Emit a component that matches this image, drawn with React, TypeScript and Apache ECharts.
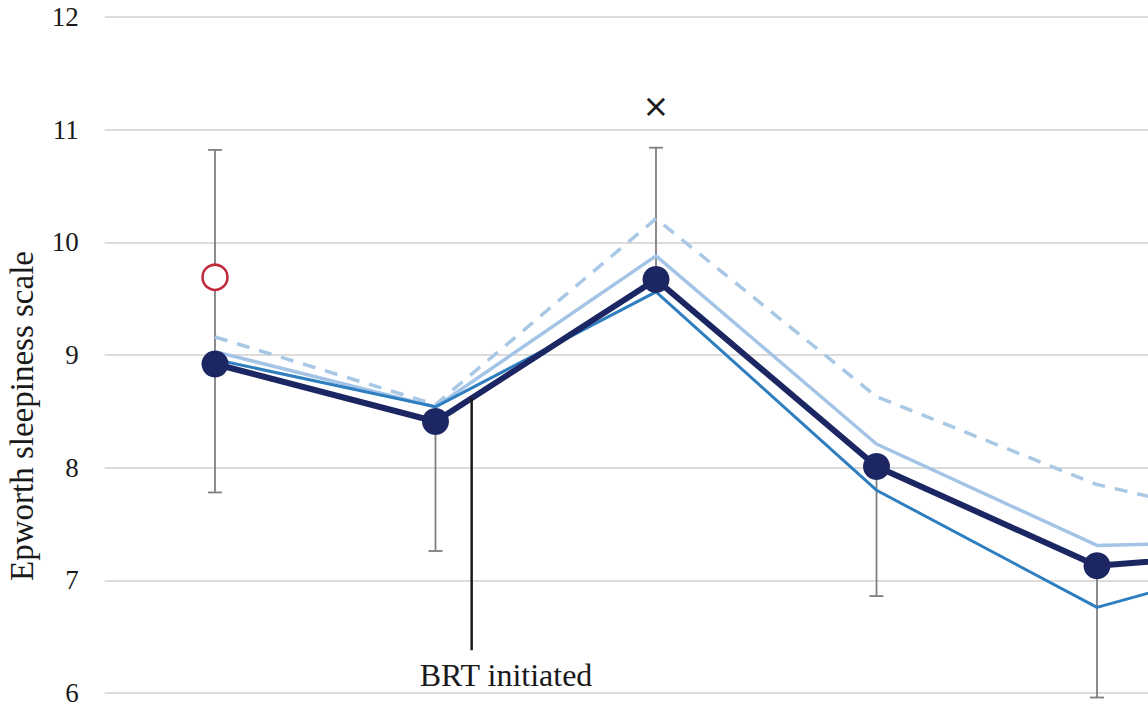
import React, { useEffect, useRef } from "react";
import * as echarts from "echarts";

// category positions (visits) 0..5
const visits = [0, 1, 2, 3, 4, 5];
const meanAll = [8.92, 8.41, 9.67, 8.01, 7.13, 7.28];
const lightSolid = [9.03, 8.54, 9.88, 8.21, 7.31, 7.35];
const mediumSolid = [8.96, 8.54, 9.56, 7.8, 6.76, 7.3];
const lightDashed = [9.16, 8.56, 10.21, 8.63, 7.85, 7.4];
const errLow = [7.78, 7.26, 9.67, 6.86, 5.96];
const errHigh = [10.82, 8.41, 10.84, 8.01, 7.13];
const outlierPoint = [0, 9.69];
const crossPoint = [2, 11.21];
const brtX = 1.164;
const brtLine = [[brtX, 8.62], [brtX, 6.38]];
const brtLabelPos = [1.32, 6.16];
const brtLabel = "BRT initiated";
const yTicks = [6, 7, 8, 9, 10, 11, 12];
const yName = "Epworth sleepiness scale";

const SERIF = "'Liberation Serif', 'Times New Roman', serif";

export default function App() {
  const ref = useRef<HTMLDivElement>(null);
  useEffect(() => {
    if (!ref.current) return;
    const chart = echarts.init(ref.current, undefined, { renderer: "svg" });
    const step = 220.5;
    const left = 104.75;
    const width = 1148 - left;
    const xMin = -0.5;
    const xMax = xMin + width / step;
    const toPairs = (arr: number[]) => arr.map((v, i) => [visits[i], v]);
    const errData = errLow.map((lo, i) => [visits[i], lo, errHigh[i], meanAll[i]]);
    chart.setOption({
      animation: false,
      grid: { left, right: 0, top: 17, bottom: 15, containLabel: false },
      xAxis: {
        type: "value",
        min: xMin,
        max: xMax,
        show: false,
      },
      yAxis: {
        type: "value",
        min: yTicks[0],
        max: yTicks[yTicks.length - 1],
        interval: 1,
        axisLine: { show: false },
        axisTick: { show: false },
        axisLabel: { fontFamily: SERIF, fontSize: 27, color: "#1a1a1a", margin: 26 },
        splitLine: { lineStyle: { color: "#dcdcdc", width: 2 } },
      },
      graphic: [
        {
          type: "text",
          x: 22,
          y: 416,
          rotation: Math.PI / 2,
          style: {
            text: yName,
            fontFamily: SERIF,
            fontSize: 33,
            fill: "#1a1a1a",
            align: "center",
            verticalAlign: "middle",
          },
        },
      ],
      series: [
        {
          type: "custom",
          z: 1,
          renderItem: (params: any, api: any) => {
            const x = api.value(0);
            const lo = api.value(1);
            const hi = api.value(2);
            const mean = api.value(3);
            const pLo = api.coord([x, lo]);
            const pHi = api.coord([x, hi]);
            const cap = 7;
            const style = { stroke: "#7f7f7f", lineWidth: 1.8 };
            const children: any[] = [
              { type: "line", shape: { x1: pLo[0], y1: pLo[1], x2: pHi[0], y2: pHi[1] }, style },
            ];
            if (lo < mean) children.push({ type: "line", shape: { x1: pLo[0] - cap, y1: pLo[1], x2: pLo[0] + cap, y2: pLo[1] }, style });
            if (hi > mean) children.push({ type: "line", shape: { x1: pHi[0] - cap, y1: pHi[1], x2: pHi[0] + cap, y2: pHi[1] }, style });
            return { type: "group", children };
          },
          data: errData,
        },
        {
          type: "line",
          z: 2,
          data: toPairs(lightDashed),
          symbol: "none",
          lineStyle: { color: "#a9c8e6", width: 3.5, type: [13, 10] },
        },
        {
          type: "line",
          z: 3,
          data: toPairs(lightSolid),
          symbol: "none",
          lineStyle: { color: "#a3c4e6", width: 3.5 },
        },
        {
          type: "line",
          z: 4,
          data: toPairs(mediumSolid),
          symbol: "none",
          lineStyle: { color: "#2f7fc0", width: 3 },
        },
        {
          type: "line",
          z: 5,
          data: toPairs(meanAll),
          symbol: "circle",
          symbolSize: 27,
          itemStyle: { color: "#1b2663" },
          lineStyle: { color: "#1b2663", width: 6 },
        },
        {
          type: "line",
          z: 6,
          data: brtLine,
          symbol: "none",
          lineStyle: { color: "#1a1a1a", width: 2.5 },
        },
        {
          type: "scatter",
          z: 6,
          data: [outlierPoint],
          symbol: "circle",
          symbolSize: 25,
          itemStyle: { color: "#ffffff", borderColor: "#c0283a", borderWidth: 2.5, opacity: 1 },
        },
        {
          type: "scatter",
          z: 6,
          data: [crossPoint],
          symbolSize: 0,
          itemStyle: { opacity: 1 },
          label: {
            show: true,
            position: "inside",
            formatter: "×",
            fontSize: 32,
            fontFamily: "DejaVu Sans",
            color: "#1a1a1a",
          },
        },
        {
          type: "scatter",
          z: 6,
          data: [brtLabelPos],
          symbolSize: 0,
          itemStyle: { opacity: 1 },
          label: {
            show: true,
            position: "inside",
            formatter: brtLabel,
            fontSize: 32,
            fontFamily: SERIF,
            color: "#1a1a1a",
          },
        },
      ],
    });
    return () => chart.dispose();
  }, []);
  return <div ref={ref} style={{ width: 1148, height: 708, position: "absolute", left: 0, top: 0 }} />;
}
